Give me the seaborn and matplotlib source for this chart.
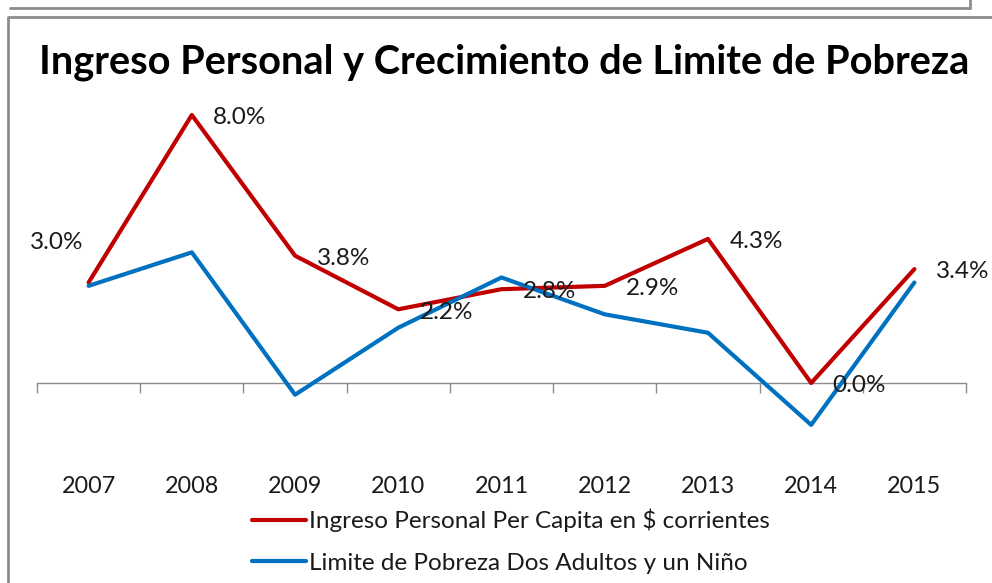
import matplotlib
matplotlib.use("Agg")
import matplotlib.pyplot as plt
import seaborn as sns
import pandas as pd
from matplotlib.lines import Line2D

years = ["2007", "2008", "2009", "2010", "2011", "2012", "2013", "2014", "2015"]
ingreso = [3.0, 8.0, 3.8, 2.2, 2.8, 2.9, 4.3, 0.0, 3.4]
limite = [2.9, 3.9, -0.35, 1.65, 3.15, 2.05, 1.5, -1.25, 3.0]
series_names = ["Ingreso Personal Per Capita en $ corrientes",
                "Limite de Pobreza Dos Adultos y un Niño"]
title = "Ingreso Personal y Crecimiento de Limite de Pobreza"

sns.set_theme(style="white")
plt.rcParams['font.family'] = ['Lato', 'DejaVu Sans']

df = pd.DataFrame({
    "year": years * 2,
    "x": list(range(len(years))) * 2,
    "value": ingreso + limite,
    "series": [series_names[0]] * len(years) + [series_names[1]] * len(years),
})

W, H = 992, 583
fig = plt.figure(figsize=(W / 100, H / 100), dpi=100)
ymin, ymax = -2.0, 9.0
left_px, right_px = 37, 966
bottom_px, top_px = 450, 81.5
ax = fig.add_axes([left_px / W, (H - bottom_px) / H,
                   (right_px - left_px) / W, (bottom_px - top_px) / H])

palette = {series_names[0]: "#C00000", series_names[1]: "#0070C0"}
sns.lineplot(data=df, x="x", y="value", hue="series", palette=palette,
             linewidth=3.0, ax=ax, legend=False, sort=False)

ax.set_xlim(-0.5, len(years) - 0.5)
ax.set_ylim(ymin, ymax)
for s in ax.spines.values():
    s.set_visible(False)
ax.set_yticks([])
ax.set_xticks(range(len(years)))
ax.set_xticklabels(years, fontsize=16.8, color="#1a1a1a")
ax.tick_params(axis="x", length=0, pad=19)
ax.set_xlabel("")
ax.set_ylabel("")

# zero axis with boundary ticks
sec = ax.secondary_xaxis((0 - ymin) / (ymax - ymin))
sec.set_xticks([i - 0.5 for i in range(len(years) + 1)])
sec.set_xticklabels([])
sec.tick_params(axis="x", direction="out", length=7, width=1, color="#8c8c8c")
sec.spines["bottom"].set_color("#8c8c8c")
sec.spines["bottom"].set_linewidth(1)

# data labels
for i, v in enumerate(ingreso):
    if i == 0:
        ax.annotate(f"{v:.1f}%", (i, v), xytext=(-23, 29), textcoords="offset points",
                    ha="center", va="center", fontsize=17.5, color="#1a1a1a")
    else:
        ax.annotate(f"{v:.1f}%", (i, v), xytext=(15.5, -2), textcoords="offset points",
                    ha="left", va="center", fontsize=17.5, color="#1a1a1a")

fig.suptitle(title, x=504 / W, y=1 - 62 / H, va="center", fontsize=28.6,
             fontweight="bold", color="black")

handles = [Line2D([], [], color=palette[n], linewidth=3.0) for n in series_names]
leg = fig.legend(handles, series_names, loc="upper left",
                 bbox_to_anchor=(242 / W, 1 - 499 / H), frameon=False,
                 fontsize=17.5, handlelength=2.25, handletextpad=0.1,
                 labelspacing=0.85, borderaxespad=0)
for t in leg.get_texts():
    t.set_color("#1a1a1a")

# frames
gray = "#8c8c8c"
fig.add_artist(Line2D([10 / W, 970 / W], [1 - 8 / H, 1 - 8 / H], color=gray, lw=2,
                      transform=fig.transFigure))
fig.add_artist(Line2D([970 / W, 970 / W], [1, 1 - 8 / H], color=gray, lw=2,
                      transform=fig.transFigure))
fig.add_artist(Line2D([8 / W, 8 / W, 992 / W], [0, 1 - 17 / H, 1 - 17 / H], color=gray,
                      lw=2, transform=fig.transFigure))

fig.savefig("out.png", dpi=100)
